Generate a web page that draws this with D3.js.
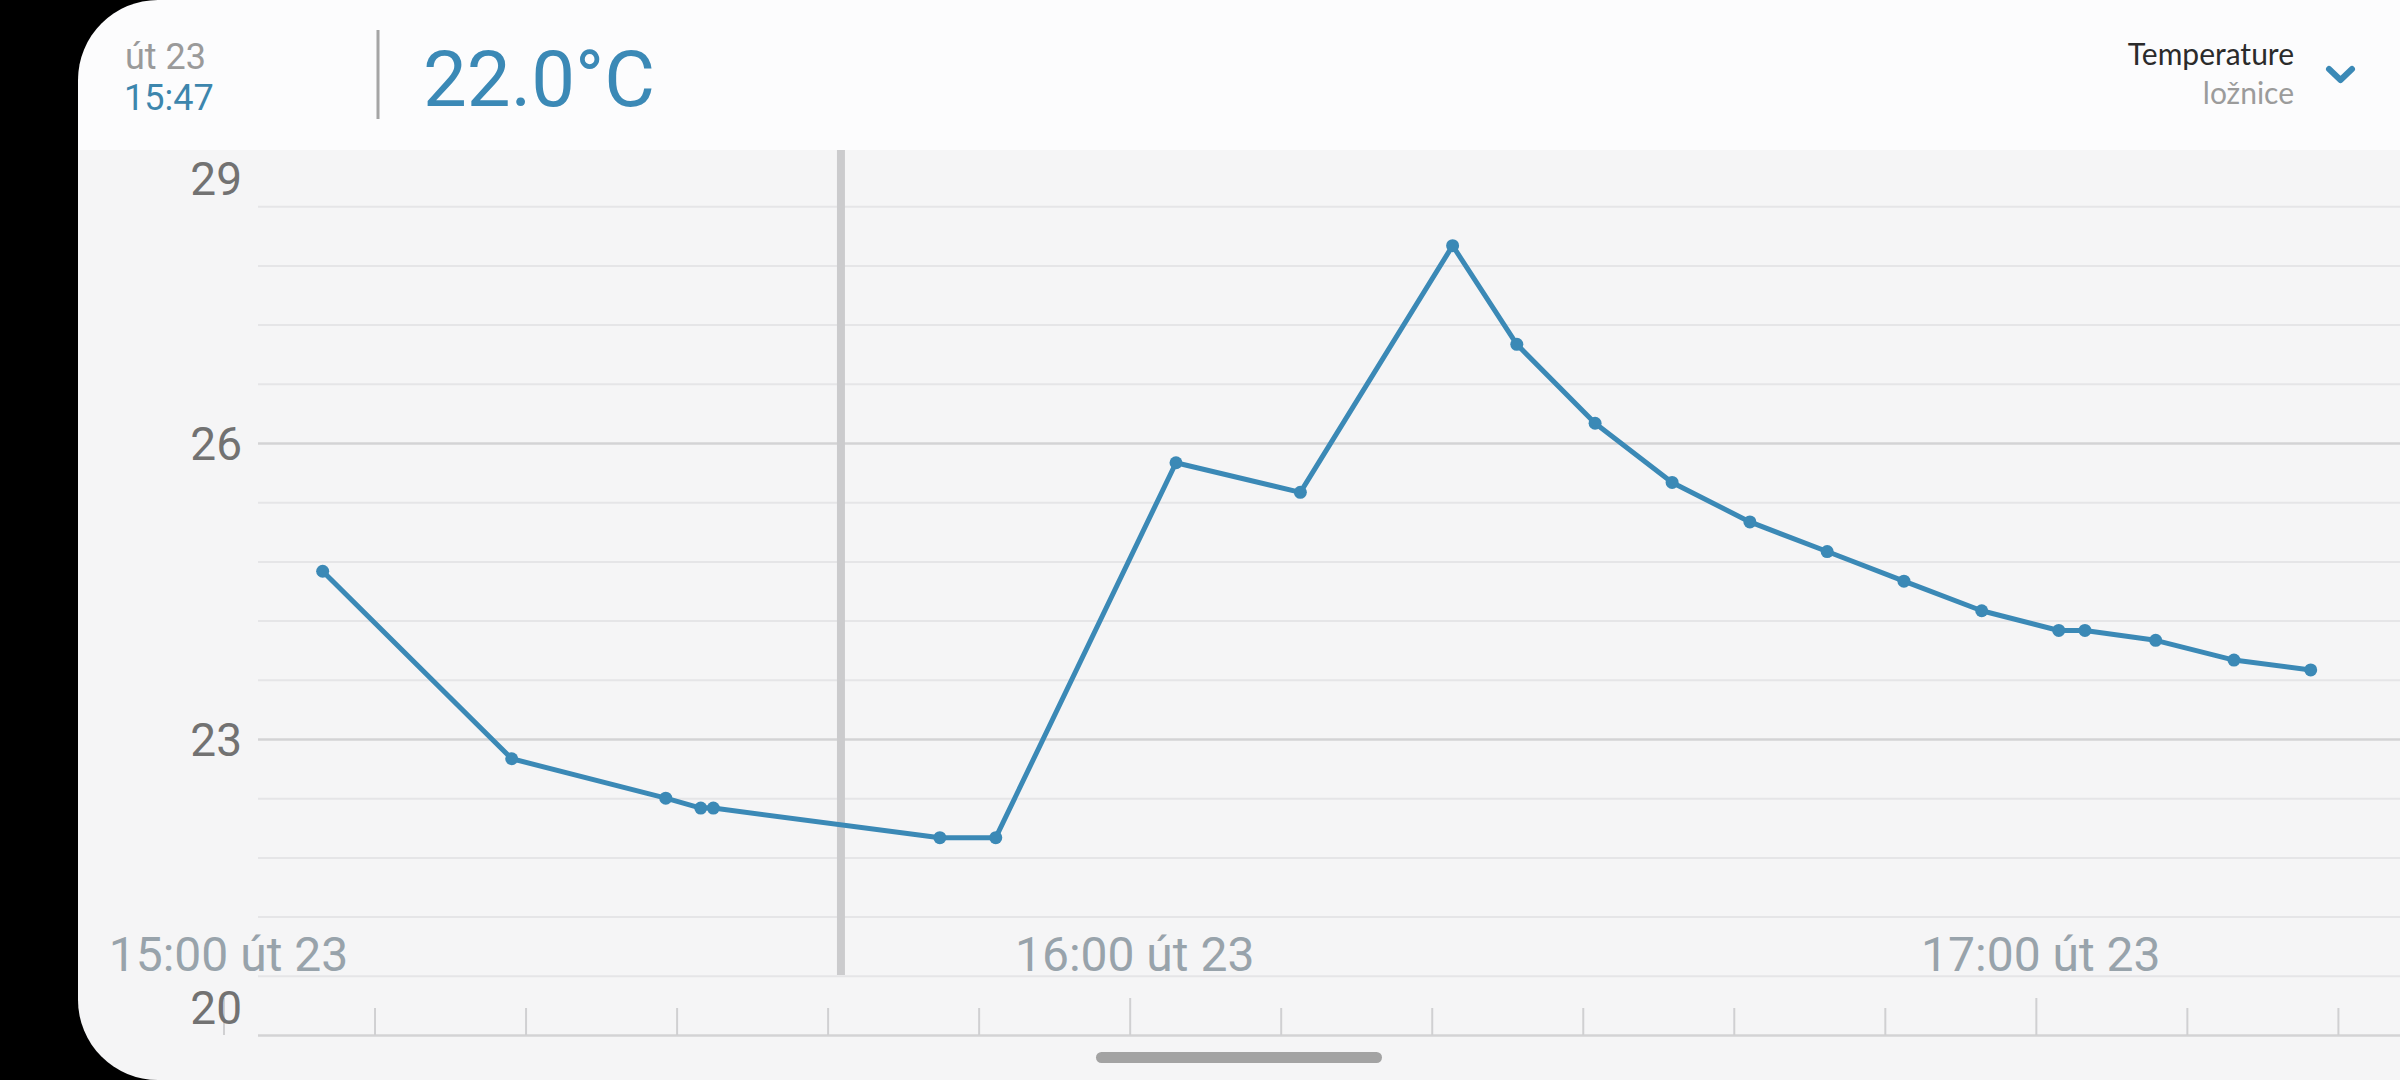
<!DOCTYPE html>
<html>
<head>
<meta charset="utf-8">
<script src="https://cdn.jsdelivr.net/npm/d3@7"></script>
<style>
  html, body { margin: 0; padding: 0; background: #000; }
  svg { display: block; }
</style>
</head>
<body>
<svg id="chart" width="2400" height="1080"></svg>
<script>
// ---- data ----
const times = ["15:06:34","15:19:05","15:29:17","15:31:36","15:32:26","15:47:26","15:51:08",
  "16:03:04","16:11:18","16:21:23","16:25:38","16:30:49","16:35:55","16:41:04","16:46:11",
  "16:51:16","16:56:25","17:01:31","17:03:15","17:07:56","17:13:07","17:18:12"];
const temps = [24.7, 22.8, 22.4, 22.3, 22.3, 22.0, 22.0,
  25.8, 25.5, 28.0, 27.0, 26.2, 25.6, 25.2, 24.9,
  24.6, 24.3, 24.1, 24.1, 24.0, 23.8, 23.7];
const yLabelValues = [20, 23, 26, 29];
const xLabelTimes = ["15:00:00", "16:00:00", "17:00:00"];
const xLabelSuffix = " út 23";
const cursorTime = "15:40:53";
const headerDate = "út 23";
const headerTime = "15:47";
const headerValue = "22.0°C";
const sensorName = "Temperature";
const roomName = "ložnice";

const parse = d3.timeParse("%H:%M:%S");
const fmtHour = d3.timeFormat("%H:%M");
const data = times.map((t, i) => ({ t: parse(t), v: temps[i] }));

const W = 2400, H = 1080;
const svg = d3.select("#chart");
const blue = "#3b89b6";

// scales
const x = d3.scaleTime()
  .domain([parse("15:00:00"), parse("17:20:00")])
  .range([223.5, 2337.9]);
const y = d3.scaleLinear().domain([20, 29]).range([1035, 147]);

// panel with rounded left corners
const px = 78, r = 80;
const panelPath = `M${px + r},0 L${W},0 L${W},${H} L${px + r},${H} A${r},${r} 0 0 1 ${px},${H - r} L${px},${r} A${r},${r} 0 0 1 ${px + r},0 Z`;
const defs = svg.append("defs");
defs.append("clipPath").attr("id", "panel").append("path").attr("d", panelPath);
defs.append("clipPath").attr("id", "plot").append("rect")
  .attr("x", px).attr("y", 150).attr("width", W - px).attr("height", H - 150);

const g = svg.append("g").attr("clip-path", "url(#panel)");
g.append("rect").attr("x", 0).attr("y", 0).attr("width", W).attr("height", 150).attr("fill", "#fcfcfd");
g.append("rect").attr("x", 0).attr("y", 150).attr("width", W).attr("height", H - 150).attr("fill", "#f5f5f6");

// header
g.append("text").attr("x", 125).attr("y", 69)
  .attr("font-family", "Roboto").attr("font-size", 36).attr("fill", "#9a9a9a").text(headerDate);
g.append("text").attr("x", 124).attr("y", 110)
  .attr("font-family", "Roboto").attr("font-size", 36).attr("fill", "#3d86ad").text(headerTime);
g.append("line").attr("x1", 378).attr("x2", 378).attr("y1", 30).attr("y2", 119)
  .attr("stroke", "#a5a5a5").attr("stroke-width", 3);
g.append("text").attr("x", 423).attr("y", 106)
  .attr("font-family", "Roboto").attr("font-size", 78).attr("fill", blue).text(headerValue);
g.append("text").attr("x", 2294).attr("y", 65).attr("text-anchor", "end")
  .attr("font-family", "Lato").attr("font-size", 30).attr("fill", "#2b2b2b").text(sensorName);
g.append("text").attr("x", 2294).attr("y", 104).attr("text-anchor", "end")
  .attr("font-family", "Lato").attr("font-size", 30).attr("fill", "#9b9b9b").text(roomName);
g.append("polyline").attr("points", "2329,69 2340.5,80 2352,69")
  .attr("fill", "none").attr("stroke", blue).attr("stroke-width", 6)
  .attr("stroke-linecap", "round").attr("stroke-linejoin", "round");

// plot
const plot = g.append("g").attr("clip-path", "url(#plot)");

// horizontal grid
const gridValues = d3.range(0, 16).map(i => +(20 + i * 0.6).toFixed(1));
const gridAxis = plot.append("g").attr("transform", "translate(258,0)")
  .call(d3.axisLeft(y).tickValues(gridValues).tickSize(-(W - 258)).tickFormat(""));
gridAxis.select(".domain").remove();
gridAxis.selectAll(".tick line")
  .attr("stroke", d => yLabelValues.includes(d) ? "#d3d3d5" : "#e5e5e7")
  .attr("stroke-width", d => yLabelValues.includes(d) ? 2.5 : 2);

// x ticks (minor and major)
const minorTicks = d3.timeMinute.every(10).range(parse("15:00:00"), parse("17:20:01"));
const tickAxis = plot.append("g").attr("transform", "translate(0,1035)")
  .call(d3.axisBottom(x).tickValues(minorTicks).tickSize(-27).tickFormat(""));
tickAxis.select(".domain").remove();
tickAxis.selectAll(".tick line")
  .attr("y2", d => d.getMinutes() === 0 ? -37 : -27)
  .attr("stroke", "#d0d0d2").attr("stroke-width", 2);

// cursor line
plot.append("line").attr("x1", x(parse(cursorTime))).attr("x2", x(parse(cursorTime)))
  .attr("y1", 150).attr("y2", 975).attr("stroke", "#cbcbcd").attr("stroke-width", 8);

// x labels
plot.selectAll("text.xl").data(xLabelTimes.map(parse)).join("text")
  .attr("class", "xl")
  .attr("x", d => x(d) + 5).attr("y", 971).attr("text-anchor", "middle")
  .attr("font-family", "Roboto").attr("font-size", 48).attr("fill", "#98a3ab")
  .text(d => fmtHour(d) + xLabelSuffix);

// y labels
plot.selectAll("text.yl").data(yLabelValues).join("text")
  .attr("class", "yl")
  .attr("x", 242).attr("text-anchor", "end")
  .attr("y", d => Math.max(178, Math.min(1007, y(d))) + 16.5)
  .attr("font-family", "Roboto").attr("font-size", 46).attr("fill", "#727272")
  .text(d => d);

// line + points
const line = d3.line().x(d => x(d.t)).y(d => y(d.v));
plot.append("path").datum(data).attr("d", line)
  .attr("fill", "none").attr("stroke", blue).attr("stroke-width", 5)
  .attr("stroke-linejoin", "round");
plot.selectAll("circle.pt").data(data).join("circle")
  .attr("class", "pt")
  .attr("cx", d => x(d.t)).attr("cy", d => y(d.v)).attr("r", 6.5).attr("fill", blue);

// nav pill
g.append("rect").attr("x", 1096).attr("y", 1052).attr("width", 286).attr("height", 11)
  .attr("rx", 5.5).attr("fill", "#a3a3a3");
</script>
</body>
</html>
